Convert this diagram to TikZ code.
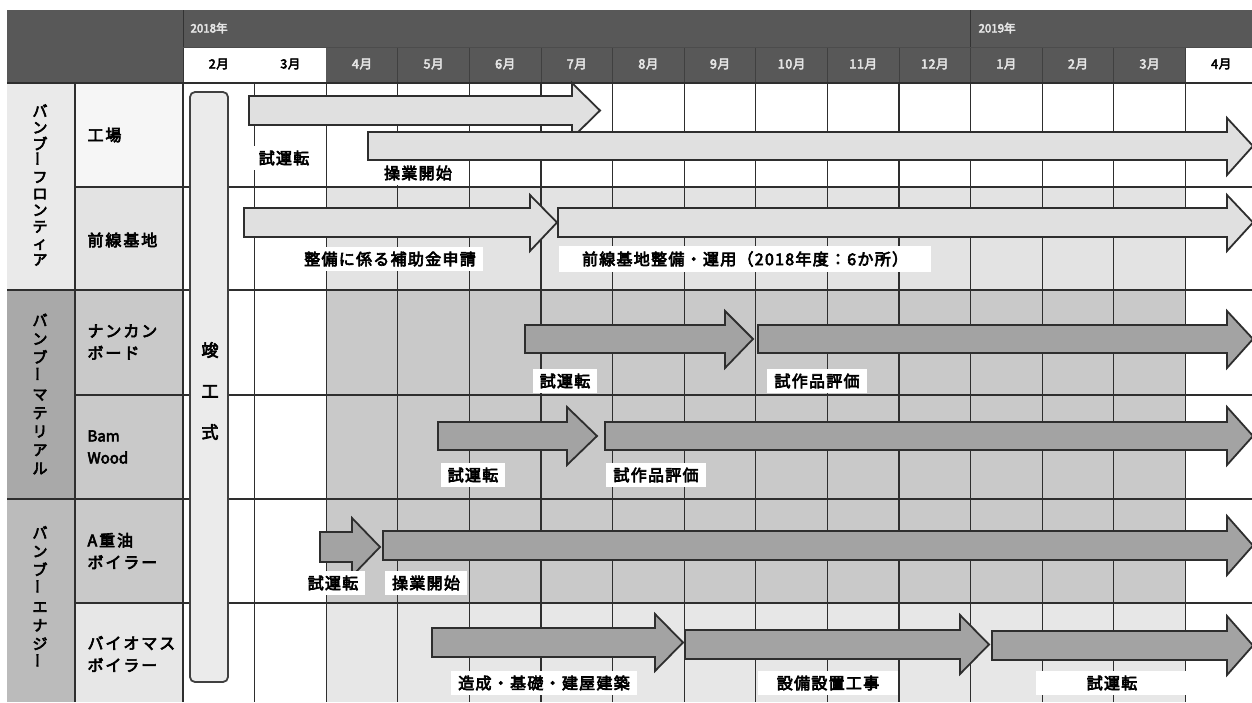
\documentclass[tikz,border=0pt]{standalone}
\usepackage{fontspec}
\setmainfont{Noto Sans CJK JP}[AutoFakeBold=4]
\definecolor{hdr}{HTML}{585858}
\definecolor{hdrtxt}{HTML}{E4E4E4}
\definecolor{rowA}{HTML}{E3E3E3}
\definecolor{rowB}{HTML}{C9C9C9}
\definecolor{rowC}{HTML}{E7E7E7}
\definecolor{catA}{HTML}{EAEAEA}
\definecolor{catB}{HTML}{A9A9A9}
\definecolor{catC}{HTML}{BBBBBB}
\definecolor{itemA}{HTML}{F6F6F6}
\definecolor{lineC}{HTML}{2E2E2E}
\newcommand\blockarrow[8]{\draw[#1] (#2,#5) -- (#3,#5) -- (#3,#7) -- (#4,{(#5+#6)/2}) -- (#3,#8) -- (#3,#6) -- (#2,#6) -- cycle;}
\newcommand\vbar{\rotatebox{90}{ー}}
\tikzset{
  gridl/.style={draw=lineC, line width=1.3pt},
  lightarrow/.style={draw=lineC, line width=1.8pt, fill=black!12, line join=miter},
  darkarrow/.style={draw=lineC, line width=1.8pt, fill=black!36, line join=miter},
  lbl/.style={fill=white, inner xsep=7pt, inner ysep=5pt, font=\bfseries\fontsize{16}{17}\selectfont\addfontfeature{LetterSpace=8}},
  monthd/.style={font=\bfseries\fontsize{12.5}{13}\selectfont\addfontfeature{LetterSpace=5}, text=hdrtxt},
  monthw/.style={font=\bfseries\fontsize{12.5}{13}\selectfont\addfontfeature{LetterSpace=5}, text=black},
  yearlbl/.style={font=\bfseries\fontsize{11.5}{12}\selectfont, text=hdrtxt, anchor=west},
  item/.style={anchor=west, align=left, font=\bfseries\fontsize{16}{22}\selectfont\addfontfeature{LetterSpace=12}},
  cat/.style={align=center, inner sep=0pt},
}
\begin{document}
\begin{tikzpicture}[x=1pt,y=-1pt]
\useasboundingbox (0,0) rectangle (1252,702);
\fill[white] (0,0) rectangle (1252,702);
% header
\fill[hdr] (7,10) rectangle (1252,83);
\fill[white] (183,47) rectangle (326.2,82);
\fill[white] (1185.4,47) rectangle (1252,82);
\foreach \i in {3,...,14}
  \draw[black!75, line width=0.8pt] ({183+71.6*\i},48) -- ({183+71.6*\i},82);
\draw[black!80, line width=1pt] (183,10) -- (183,82);
\draw[black!80, line width=1pt] (970.6,10) -- (970.6,47);
\draw[black!70, line width=0.8pt] (183,47) -- (1252,47);
\node[yearlbl] (y2018) at (187,28) {2018年};
\node[yearlbl] (y2019) at (975,28) {2019年};
\node[monthw] (m0) at ({183+71.6*0.5},64) {2月};
\node[monthw] (m1) at ({183+71.6*1.5},64) {3月};
\foreach \lab [count=\k from 2] in {4月,5月,6月,7月,8月,9月,10月,11月,12月,1月,2月,3月}
  \node[monthd] (m\k) at ({183+71.6*(\k+0.5)},64) {\lab};
\node[monthw] (m14) at ({183+71.6*14.5},64) {4月};
% left columns
\fill[catA] (7,83) rectangle (75,290);
\fill[catB] (7,290) rectangle (75,499);
\fill[catC] (7,499) rectangle (75,702);
\fill[itemA] (75,83) rectangle (183,187);
\fill[rowA] (75,187) rectangle (183,290);
\fill[rowB] (75,290) rectangle (183,603);
\fill[rowC] (75,603) rectangle (183,702);
% grid shading
\foreach \ya/\yb/\c in {83/187/white, 187/290/rowA, 290/395/rowB, 395/499/rowB, 499/603/rowB, 603/702/rowC}
  \fill[\c] (326.2,\ya) rectangle (1185.4,\yb);
% grid lines
\foreach \i in {0,...,14}
  \draw[gridl] ({183+71.6*\i},83) -- ({183+71.6*\i},702);
\draw[gridl] (75,83) -- (75,702);
\draw[gridl] (7,83) -- (1252,83);
\foreach \y in {187,395,603}
  \draw[gridl] (75,\y) -- (1252,\y);
\foreach \y in {290,499}
  \draw[gridl] (7,\y) -- (1252,\y);
% category labels
\node[cat, font=\bfseries\fontsize{15}{16.5}\selectfont] (c1) at (40,185)
  {バ\\ン\\ブ\\\vbar\\フ\\ロ\\ン\\テ\\ィ\\ア};
\node[cat, font=\bfseries\fontsize{15}{18.5}\selectfont] (c2) at (40,394)
  {バ\\ン\\ブ\\\vbar\\マ\\テ\\リ\\ア\\ル};
\node[cat, font=\bfseries\fontsize{15}{18.5}\selectfont] (c3) at (40,597)
  {バ\\ン\\ブ\\\vbar\\エ\\ナ\\ジ\\\vbar};
% item labels
\node[item] (i1) at (84,135) {工場};
\node[item] (i2) at (84,240) {前線基地};
\node[item] (i3) at (84,342) {ナンカン\\ボード};
\node[item, font=\bfseries\fontsize{15}{22}\selectfont] (i4) at (84,447) {Bam\\Wood};
\node[item] (i5) at (84,551) {A重油\\ボイラー};
\node[item] (i6) at (84,654) {バイオマス\\ボイラー};
% ceremony box
\draw[draw=black!75, line width=1.8pt, fill=black!8, rounded corners=5pt] (190,92) rectangle (228,682);
\node[cat, font=\bfseries\fontsize{17}{41}\selectfont] (cer) at (210,391) {竣\\工\\式};
% arrows: row 工場
\blockarrow{lightarrow}{249}{572}{600}{96}{125}{83}{138}
\blockarrow{lightarrow}{368}{1227}{1253}{132}{160}{118}{175}
% row 前線基地
\blockarrow{lightarrow}{244}{530}{557}{208}{237}{195}{251}
\blockarrow{lightarrow}{558}{1227}{1253}{208}{237}{195}{251}
% row ナンカンボード
\blockarrow{darkarrow}{525}{725}{753}{325}{353}{311}{368}
\blockarrow{darkarrow}{758}{1227}{1253}{325}{353}{311}{368}
% row Bam Wood
\blockarrow{darkarrow}{438}{567}{597}{422}{450}{407}{465}
\blockarrow{darkarrow}{605}{1227}{1253}{422}{450}{407}{465}
% row A重油
\blockarrow{darkarrow}{320}{352}{380}{532}{562}{518}{576}
\blockarrow{darkarrow}{383}{1227}{1253}{531}{560}{516}{575}
% row バイオマス
\blockarrow{darkarrow}{432}{655}{683}{628}{657}{614}{671}
\blockarrow{darkarrow}{685}{960}{989}{630}{659}{615}{674}
\blockarrow{darkarrow}{992}{1227}{1253}{631}{660}{616}{675}
% labels
\node[lbl] (l1) at (284,158) {試運転};
\node[lbl] (l2) at (418,173) {操業開始};
\node[lbl] (l3) at (390,259) {整備に係る補助金申請};
\node[lbl, minimum width=372pt] (l4) at (745,259) {前線基地整備・運用（2018年度：6か所）};
\node[lbl] (l5) at (565,381) {試運転};
\node[lbl] (l6) at (817,381) {試作品評価};
\node[lbl] (l7) at (473,475) {試運転};
\node[lbl] (l8) at (656,475) {試作品評価};
\node[lbl] (l9) at (333,583) {試運転};
\node[lbl] (l10) at (426,583) {操業開始};
\node[lbl] (l11) at (544,683) {造成・基礎・建屋建築};
\node[lbl, minimum width=140pt] (l12) at (828,683) {設備設置工事};
\node[lbl, minimum width=152pt] (l13) at (1112,683) {試運転};
\end{tikzpicture}
\end{document}
